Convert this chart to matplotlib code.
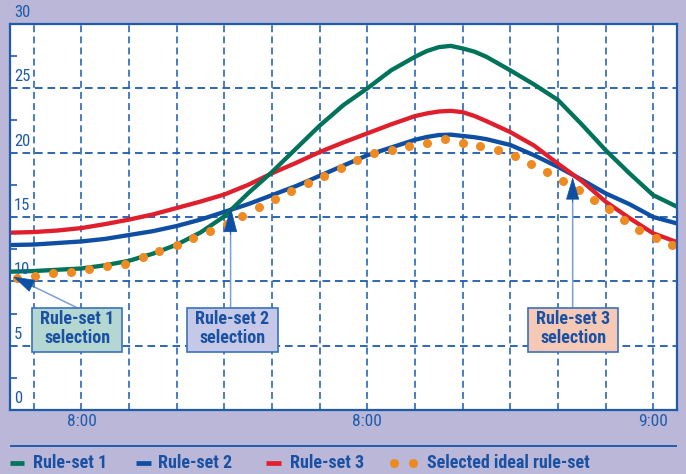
import matplotlib
matplotlib.use('Agg')
import matplotlib.pyplot as plt
from matplotlib.lines import Line2D
from matplotlib.patches import Rectangle
import matplotlib.transforms as mtransforms

plt.rcParams['font.family'] = ['Roboto Condensed', 'Archivo Narrow', 'PT Sans Narrow',
                               'Barlow Semi Condensed', 'DejaVu Sans']
plt.rcParams['lines.scale_dashes'] = False

BG = '#BAB7D9'
AXBLUE = '#1F5BAA'
TXT = '#1A51A2'
GREEN = '#00735A'
BLUE = '#0E4FA3'
RED = '#E01F2D'
ORANGE = '#EE8A22'
ARROW_LINE = '#7AA0D6'
HEAD = '#0E4FA3'

# ---------------- data ----------------
line_minutes = [45, 50, 55, 60, 65, 70, 75, 80, 85, 90, 95, 100, 105, 110, 115,
                120, 125, 130, 132.5, 135, 137.5, 140, 142.5, 145, 150, 155, 160, 165,
                170, 175, 180, 185]
rule_set_1 = [10.75, 10.8, 10.9, 11.0, 11.25, 11.6, 12.15, 12.85, 13.8, 15.05, 16.85,
              18.5, 20.3, 22.1, 23.7, 25.0, 26.4, 27.45, 27.9, 28.2, 28.3, 28.1, 27.85,
              27.45, 26.4, 25.3, 24.1, 22.2, 20.2, 18.4, 16.7, 15.8]
rule_set_2 = [12.82, 12.86, 12.98, 13.1, 13.3, 13.6, 13.9, 14.3, 14.8, 15.4, 16.0,
              16.7, 17.4, 18.2, 19.0, 19.8, 20.4, 21.0, 21.22, 21.37, 21.4, 21.3, 21.2,
              21.05, 20.6, 19.8, 18.9, 17.9, 16.84, 16.0, 15.0, 14.5]
rule_set_3 = [13.78, 13.83, 13.95, 14.14, 14.45, 14.8, 15.2, 15.7, 16.2, 16.75, 17.5,
              18.4, 19.2, 20.05, 20.8, 21.5, 22.2, 22.84, 23.05, 23.2, 23.25, 23.15,
              22.85, 22.45, 21.6, 20.55, 19.15, 17.8, 16.2, 14.92, 13.73, 13.05]
ideal_minutes = [46.4, 50.25, 54.1, 57.8, 61.6, 65.3, 69.1, 72.85, 76.3, 80.0, 83.5,
                 87.0, 90.5, 93.8, 97.3, 100.6, 104.0, 107.5, 111.0, 114.4, 117.8, 121.3,
                 125.1, 128.75, 132.5, 136.2, 140.0, 143.7, 147.4, 150.9, 154.3, 157.8,
                 161.1, 164.4, 167.5, 170.7, 173.95, 177.1, 180.5, 184.0]
ideal_values = [10.23, 10.43, 10.62, 10.75, 10.98, 11.19, 11.37, 11.86, 12.38, 12.82,
                13.39, 13.91, 14.43, 15.07, 15.75, 16.39, 17.02, 17.61, 18.18, 18.78,
                19.43, 19.99, 20.2, 20.51, 20.77, 21.03, 20.77, 20.54, 20.2, 19.74,
                19.11, 18.49, 17.82, 17.09, 16.32, 15.59, 14.76, 13.99, 13.34, 12.82]

x_tick_positions = [60, 120, 180]
x_tick_labels = ['8:00', '8:00', '9:00']
x_grid_positions = [50, 60, 70, 80, 90, 100, 110, 120, 130, 140, 150, 160, 170, 180]
y_label_values = [0, 5, 10, 15, 20, 25, 30]
y_grid_values = [5, 10, 15, 20, 25]
y_minor_ticks = [2.5, 7.5, 12.5, 17.5, 22.5, 27.5]

note_texts = ['Rule-set 1\nselection', 'Rule-set 2\nselection', 'Rule-set 3\nselection']
note_tips = [(45.7, 10.36), (91.3, 15.8), (163.1, 18.1)]
note_boxes = [(59.1, 6.2), (91.7, 6.2), (163.2, 6.2)]
note_line_x = [59.3, 91.3, 163.1]
note_colors = ['#B4D7D1', '#C5C9E7', '#F6C9B7']
note_head_dirs = [(0.899, -0.437), (0.0, -1.0), (0.0, -1.0)]
note_head_len = [14, 17, 15]

legend_labels = ['Rule-set 1', 'Rule-set 2', 'Rule-set 3', 'Selected ideal rule-set']
legend_colors = [GREEN, BLUE, RED, ORANGE]

# ---------------- figure ----------------
W, H = 686, 474
fig = plt.figure(figsize=(W / 100, H / 100), dpi=100, facecolor=BG)
ax = fig.add_axes([10 / W, 1 - 410 / H, 667 / W, 386 / H])
ax.set_facecolor('white')
ax.set_xlim(45, 185)
ax.set_ylim(0, 30)

for s in ax.spines.values():
    s.set_color(AXBLUE)
    s.set_linewidth(1.6)
    s.set_zorder(8)

for xv in x_grid_positions:
    ax.axvline(xv, color='#3A72BE', lw=1.3, ls=(0, (5, 3)), zorder=1)
for yv in y_grid_values:
    ax.axhline(yv, color=AXBLUE, lw=1.3, ls=(0, (5.5, 3.5)), zorder=1)

ax.set_xticks(x_tick_positions, x_tick_labels)
ax.tick_params(axis='x', length=0, pad=3, labelsize=12.5, labelcolor=AXBLUE)
ax.set_yticks([])
ax.set_yticks(y_minor_ticks, minor=True)
ax.tick_params(axis='y', which='minor', direction='in', length=5, width=1.2,
               color=AXBLUE, left=True, labelleft=False)

ytrans = mtransforms.blended_transform_factory(ax.transAxes, ax.transData)
for v in y_label_values:
    ax.text(0.006, v + 0.9, str(v), transform=ytrans, ha='left', va='center',
            fontsize=12, color=AXBLUE, clip_on=False, zorder=9)

# series
ax.plot(line_minutes, rule_set_2, color=BLUE, lw=3.1, zorder=3, solid_capstyle='butt',
        solid_joinstyle='round')
ax.plot(line_minutes, rule_set_3, color=RED, lw=3.1, zorder=3, solid_capstyle='butt',
        solid_joinstyle='round')
ax.plot(line_minutes, rule_set_1, color=GREEN, lw=3.1, zorder=3, solid_capstyle='butt',
        solid_joinstyle='round')
ax.plot(ideal_minutes, ideal_values, ls='none', marker='o', ms=6.5, mfc=ORANGE,
        mec='none', zorder=4)

# annotations
bw, bh = 18.9, 3.42
for txt, tip, (bx, by), lx, col, d, hl in zip(note_texts, note_tips, note_boxes,
                                               note_line_x, note_colors, note_head_dirs,
                                               note_head_len):
    top = by + bh / 2
    ax.annotate('', xy=tip, xytext=(lx, top),
                arrowprops=dict(arrowstyle='-', color=ARROW_LINE, lw=1.1,
                                shrinkA=0, shrinkB=4),
                zorder=5, annotation_clip=False)
    ax.annotate('', xy=tip, xytext=(d[0] * (hl + 3), d[1] * (hl + 3)),
                textcoords='offset points',
                arrowprops=dict(arrowstyle='-|>,head_length=%g,head_width=4.4' % hl,
                                mutation_scale=1, color=HEAD, lw=0.5,
                                shrinkA=0, shrinkB=0),
                zorder=6, annotation_clip=False)
    ax.add_patch(Rectangle((bx - bw / 2, by - bh / 2), bw, bh, facecolor=col,
                           edgecolor='#3A72BE', lw=1.2, zorder=7))
    ax.text(bx, by + 0.15, txt, ha='center', va='center', fontsize=13,
            fontweight='bold', color=TXT, linespacing=1.05, zorder=8)

# separator line
fig.add_artist(Line2D([11 / W, 676 / W], [1 - 445.5 / H] * 2, color=AXBLUE, lw=1.4,
                      transform=fig.transFigure))

# legend
ly = 1 - 463 / H
handle_x = [(10, 24), (136, 151), (266, 281)]
text_x = [33, 158, 290, 427]
for (x0, x1), c in zip(handle_x, legend_colors[:3]):
    fig.add_artist(Line2D([x0 / W, x1 / W], [ly, ly], color=c, lw=3.4,
                          solid_capstyle='butt', transform=fig.transFigure))
fig.add_artist(Line2D([394 / W, 413 / W], [ly, ly], ls='none', marker='o', ms=6.5,
                      mfc=legend_colors[3], mec='none', transform=fig.transFigure))
for tx, lab in zip(text_x, legend_labels):
    fig.text(tx / W, ly, lab, ha='left', va='center', fontsize=13, fontweight='bold',
             color=TXT)

fig.savefig('out.png', dpi=100, facecolor=BG)
